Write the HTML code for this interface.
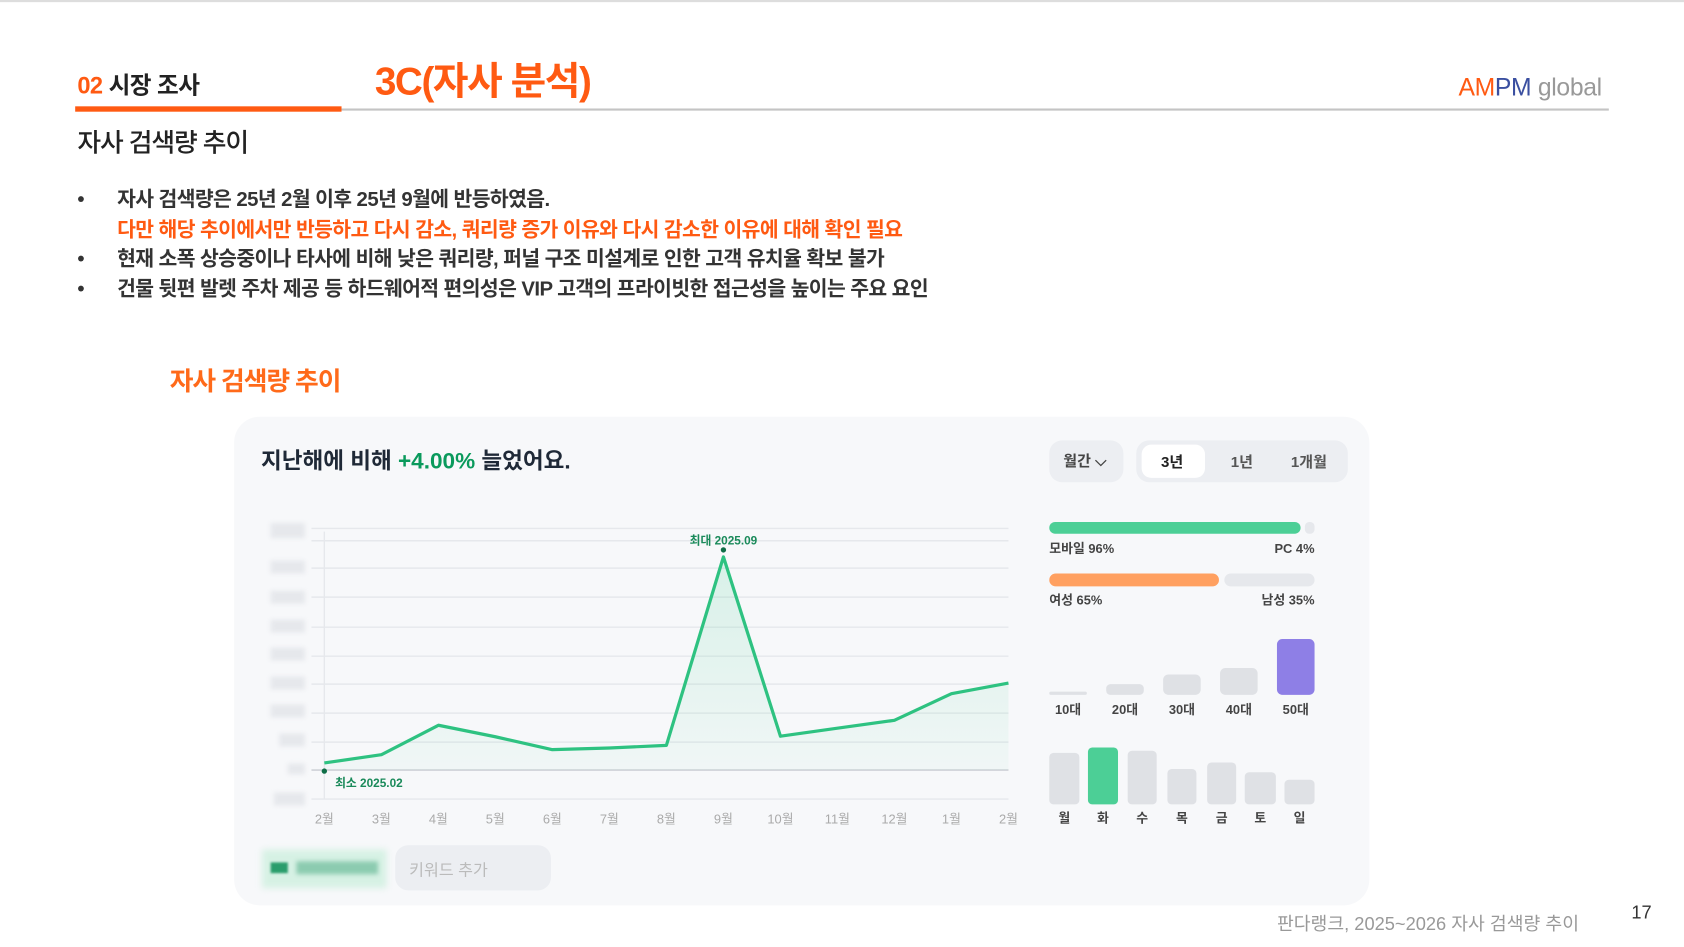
<!DOCTYPE html>
<html><head><meta charset="utf-8"><style>
html,body{margin:0;padding:0;background:#fff;overflow:hidden;width:1684px;height:947px}
#w{position:absolute;left:0;top:0;width:1568px;height:882px;transform:scale(1.07398);transform-origin:0 0;font-family:"Liberation Sans","Noto Sans CJK KR",sans-serif;color:#222}
.a{position:absolute;white-space:nowrap}
.bl{position:absolute;background:#e6e8ec;filter:blur(2px)}
.b{position:relative;padding-left:37px}
.b:before{content:"•";position:absolute;left:0;top:0}
</style></head><body><div id="w">
<div class="a" style="left:0;top:0;width:1568px;height:2px;background:#ddd"></div>
<div class="a" style="left:72px;top:62px;font-size:22px;font-weight:bold;letter-spacing:-0.5px"><span style="color:#ff5a12">02</span> 시장 조사</div>
<div class="a" style="left:70px;top:99px;width:248px;height:5px;background:#ff5a12"></div>
<div class="a" style="left:318px;top:101px;width:1180px;height:2px;background:#c4c4c4"></div>
<div class="a" style="left:349px;top:47px;font-size:36px;font-weight:bold;color:#ff5a12;letter-spacing:-1.3px">3C(자사 분석)</div>
<div class="a" style="left:1358px;top:68px;font-size:23px;letter-spacing:-0.3px"><span style="color:#ff5a12">AM</span><span style="color:#3a4fa0">PM</span> <span style="color:#999">global</span></div>
<div class="a" style="left:72px;top:113px;font-size:24px;font-weight:500;letter-spacing:-1px">자사 검색량 추이</div>
<div class="a" style="left:72px;top:173px;font-size:19px;line-height:27.5px;font-weight:bold;color:#333;letter-spacing:-0.55px">
<div class="b">자사 검색량은 25년 2월 이후 25년 9월에 반등하였음.</div>
<div style="color:#ff5a12;padding-left:37px">다만 해당 추이에서만 반등하고 다시 감소, 쿼리량 증가 이유와 다시 감소한 이유에 대해 확인 필요</div>
<div class="b">현재 소폭 상승중이나 타사에 비해 낮은 쿼리량, 퍼널 구조 미설계로 인한 고객 유치율 확보 불가</div>
<div class="b">건물 뒷편 발렛 주차 제공 등 하드웨어적 편의성은 VIP 고객의 프라이빗한 접근성을 높이는 주요 요인</div>
</div>
<div class="a" style="left:158px;top:335px;font-size:24px;font-weight:bold;color:#ff6a1a;letter-spacing:-1px">자사 검색량 추이</div>
<div class="a" style="left:218px;top:388px;width:1057px;height:455px;background:#f7f8fa;border-radius:24px"></div>
<div class="a" style="left:243px;top:413px;font-size:21px;font-weight:bold;color:#1f2937;letter-spacing:0px">지난해에 비해 <span style="color:#0a9a5c">+4.00%</span> 늘었어요.</div>
<div class="a" style="left:977px;top:410px;width:69px;height:39px;background:#eceef2;border-radius:12px;font-size:14px;font-weight:bold;color:#444;line-height:39px;text-indent:13px">월간 ⌵</div>
<div class="a" style="left:1058px;top:410px;width:197px;height:39px;background:#eceef2;border-radius:12px"></div>
<div class="a" style="left:1063px;top:414px;width:59px;height:31px;background:#fff;border-radius:9px"></div>
<div class="a" style="left:1081px;top:420px;font-size:14px;font-weight:bold;color:#222">3년</div>
<div class="a" style="left:1146px;top:420px;font-size:14px;font-weight:bold;color:#555">1년</div>
<div class="a" style="left:1202px;top:420px;font-size:14px;font-weight:bold;color:#555">1개월</div>
<div class="bl" style="left:252px;top:487px;width:32px;height:14px"></div>
<div class="bl" style="left:252px;top:522px;width:32px;height:12px"></div>
<div class="bl" style="left:252px;top:550px;width:32px;height:12px"></div>
<div class="bl" style="left:252px;top:577px;width:32px;height:12px"></div>
<div class="bl" style="left:252px;top:603px;width:32px;height:12px"></div>
<div class="bl" style="left:252px;top:630px;width:32px;height:12px"></div>
<div class="bl" style="left:252px;top:656px;width:32px;height:12px"></div>
<div class="bl" style="left:260px;top:683px;width:24px;height:12px"></div>
<div class="bl" style="left:268px;top:711px;width:16px;height:10px"></div>
<div class="bl" style="left:255px;top:738px;width:29px;height:12px"></div>
<svg class="a" style="left:0;top:0" width="1568" height="882">
<g stroke="#e6e8ec" stroke-width="1.3">
<line x1="290" x2="939" y1="492" y2="492"/><line x1="290" x2="939" y1="503.5" y2="503.5"/><line x1="290" x2="939" y1="529" y2="529"/><line x1="290" x2="939" y1="556" y2="556"/><line x1="290" x2="939" y1="584" y2="584"/><line x1="290" x2="939" y1="611" y2="611"/><line x1="290" x2="939" y1="637" y2="637"/><line x1="290" x2="939" y1="664" y2="664"/><line x1="290" x2="939" y1="691" y2="691"/><line x1="290" x2="939" y1="744" y2="744"/>
<line x1="302" x2="302" y1="495" y2="744"/></g>
<line x1="290" x2="939" y1="717" y2="717" stroke="#cfd2d8" stroke-width="1.5"/>
<defs><linearGradient id="g" x1="0" y1="0" x2="0" y2="1"><stop offset="0" stop-color="#4ccf96" stop-opacity="0.18"/><stop offset="1" stop-color="#4ccf96" stop-opacity="0.04"/></linearGradient></defs>
<polygon fill="url(#g)" points="302,710.4 355.1,702.7 408.2,675.3 461.2,686 514.3,698 567.4,696.5 620.5,694 673.6,518.5 726.7,685.5 779.7,678 832.8,670.7 885.9,645.9 939,636 939,717 302,717"/>
<polyline fill="none" stroke="#2ec281" stroke-width="3" stroke-linejoin="round" points="302,710.4 355.1,702.7 408.2,675.3 461.2,686 514.3,698 567.4,696.5 620.5,694 673.6,518.5 726.7,685.5 779.7,678 832.8,670.7 885.9,645.9 939,636"/>
<circle cx="673.6" cy="512" r="2.5" fill="#0f6e47"/><circle cx="302" cy="718" r="2.5" fill="#0f6e47"/>
<g font-family="Liberation Sans,Noto Sans CJK KR,sans-serif" font-size="11" font-weight="bold" fill="#1a8a5a">
<text x="673.6" y="507" text-anchor="middle">최대 2025.09</text><text x="312" y="733">최소 2025.02</text></g>
<g font-family="Liberation Sans,Noto Sans CJK KR,sans-serif" font-size="12" fill="#aaa" text-anchor="middle">
<text x="302" y="767">2월</text><text x="355.1" y="767">3월</text><text x="408.2" y="767">4월</text><text x="461.2" y="767">5월</text><text x="514.3" y="767">6월</text><text x="567.4" y="767">7월</text><text x="620.5" y="767">8월</text><text x="673.6" y="767">9월</text><text x="726.7" y="767">10월</text><text x="779.7" y="767">11월</text><text x="832.8" y="767">12월</text><text x="885.9" y="767">1월</text><text x="939" y="767">2월</text></g>
<g>
<rect x="977" y="486" width="234" height="11" rx="5.5" fill="#4ccf96"/><rect x="1215" y="486" width="9" height="11" rx="4" fill="#e6e8ec"/>
<rect x="977" y="534" width="158" height="12" rx="6" fill="#ffa060"/><rect x="1140" y="534" width="84" height="12" rx="6" fill="#e6e8ec"/>
<rect x="977" y="644" width="35" height="3" rx="1.5" fill="#dfe1e5"/><rect x="1030" y="637" width="35" height="10" rx="4" fill="#dfe1e5"/><rect x="1083" y="628" width="35" height="19" rx="5" fill="#dfe1e5"/><rect x="1136" y="622" width="35" height="25" rx="5" fill="#dfe1e5"/><rect x="1189" y="595" width="35" height="52" rx="5" fill="#8e7fe6"/>
<rect x="977" y="701" width="28" height="48" rx="4" fill="#dfe1e5"/><rect x="1013" y="696" width="28" height="53" rx="4" fill="#4ccf96"/><rect x="1050" y="699" width="27" height="50" rx="4" fill="#dfe1e5"/><rect x="1087" y="716" width="27" height="33" rx="4" fill="#dfe1e5"/><rect x="1124" y="710" width="27" height="39" rx="4" fill="#dfe1e5"/><rect x="1159" y="719" width="29" height="30" rx="4" fill="#dfe1e5"/><rect x="1196" y="726" width="28" height="23" rx="4" fill="#dfe1e5"/>
</g>
<g font-family="Liberation Sans,Noto Sans CJK KR,sans-serif" font-size="12" font-weight="bold" fill="#444">
<text x="977" y="515">모바일 96%</text><text x="1224" y="515" text-anchor="end">PC 4%</text>
<text x="977" y="563">여성 65%</text><text x="1224" y="563" text-anchor="end">남성 35%</text>
<g text-anchor="middle"><text x="994.5" y="665">10대</text><text x="1047.5" y="665">20대</text><text x="1100.5" y="665">30대</text><text x="1153.5" y="665">40대</text><text x="1206.5" y="665">50대</text>
<text x="991" y="766">월</text><text x="1027" y="766">화</text><text x="1063.5" y="766">수</text><text x="1100.5" y="766">목</text><text x="1137.5" y="766">금</text><text x="1173.5" y="766">토</text><text x="1210" y="766">일</text></g></g>
</svg>
<div class="a" style="left:244px;top:791px;width:116px;height:36px;background:#d6f1e4;filter:blur(3px)"></div>
<div class="a" style="left:252px;top:803px;width:16px;height:10px;background:#2a9d6c;filter:blur(1px)"></div>
<div class="a" style="left:276px;top:802px;width:76px;height:12px;background:#8ccbb0;filter:blur(2px)"></div>
<div class="a" style="left:368px;top:787px;width:145px;height:42px;background:#eceef2;border-radius:12px"></div>
<div class="a" style="left:381px;top:799px;font-size:15px;color:#bbb">키워드 추가</div>
<div class="a" style="left:1189px;top:846px;font-size:17px;color:#999;letter-spacing:0px">판다랭크, 2025~2026 자사 검색량 추이</div>
<div class="a" style="left:1519px;top:840px;font-size:17px;color:#333">17</div>
</div></body></html>
